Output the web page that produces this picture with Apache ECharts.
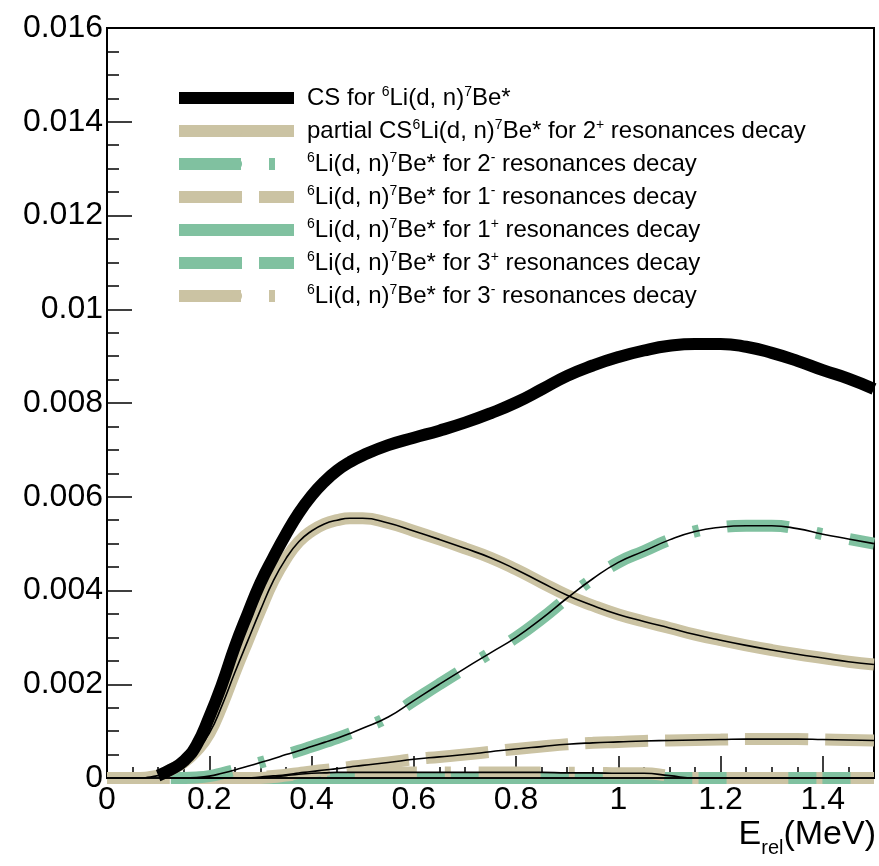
<!DOCTYPE html>
<html>
<head>
<meta charset="utf-8">
<script src="https://cdn.jsdelivr.net/npm/echarts@6/dist/echarts.min.js"></script>
<style>
html,body{margin:0;padding:0;background:#fff;}
#chart{width:879px;height:866px;}
</style>
</head>
<body>
<div id="chart"></div>
<script>
// ---- data (E_rel in MeV, cross sections) ----
const energy = [0, 0.05, 0.1, 0.125, 0.15, 0.175, 0.2, 0.225, 0.25, 0.275, 0.3, 0.325, 0.35, 0.375, 0.4, 0.425, 0.45, 0.475, 0.5, 0.55, 0.6, 0.65, 0.7, 0.75, 0.8, 0.85, 0.9, 0.95, 1.0, 1.05, 1.1, 1.15, 1.2, 1.25, 1.3, 1.35, 1.4, 1.45, 1.5];

const csTotal = [null, null, 0.00005, 0.00018, 0.00036, 0.0007, 0.0013, 0.002, 0.0028, 0.0035, 0.00416, 0.0047, 0.0052, 0.00565, 0.00602, 0.00632, 0.00656, 0.00674, 0.00688, 0.0071, 0.00726, 0.00741, 0.00758, 0.00778, 0.00801, 0.00829, 0.00858, 0.0088, 0.00898, 0.00912, 0.00922, 0.00926, 0.00926, 0.0092, 0.00907, 0.0089, 0.0087, 0.00852, 0.0083];

const partial2p = [0, 0, 0.00005, 0.00018, 0.00033, 0.00058, 0.00095, 0.00155, 0.00225, 0.00292, 0.00358, 0.0042, 0.00468, 0.00504, 0.00527, 0.00542, 0.0055, 0.00554, 0.00554, 0.00544, 0.00527, 0.00509, 0.0049, 0.0047, 0.00445, 0.00417, 0.0039, 0.00368, 0.00349, 0.00334, 0.0032, 0.00306, 0.00294, 0.00283, 0.00273, 0.00264, 0.00256, 0.00248, 0.00242];

const res2m = [null, null, null, 0, 0, 0.00001, 0.00004, 0.0001, 0.00017, 0.00025, 0.00033, 0.00041, 0.0005, 0.00058, 0.00067, 0.00076, 0.00085, 0.00095, 0.00106, 0.0013, 0.00165, 0.002, 0.00234, 0.00267, 0.003, 0.0034, 0.00384, 0.00425, 0.0046, 0.00484, 0.00508, 0.00526, 0.00535, 0.00538, 0.00538, 0.00532, 0.0052, 0.0051, 0.005];

const res1m = [0, 0, 0, 0, 0, 0, 0, 0, 0, 0, 0.00002, 0.000045, 0.00007, 0.000105, 0.00014, 0.00017, 0.0002, 0.000235, 0.00027, 0.00033, 0.0004, 0.00045, 0.0005, 0.00056, 0.00062, 0.00067, 0.00072, 0.00075, 0.00077, 0.00079, 0.0008, 0.00081, 0.00082, 0.00083, 0.00083, 0.00083, 0.00082, 0.00081, 0.0008];

const res1p = [null, null, null, 0, 0, 0, 0, 0, 0, 0, 0, 0, 0, 0, 0, 0, 0, 0, 0, 0, 0, 0, 0, 0, 0, 0, 0, 0, 0, 0, 0, 0, 0, 0, 0, 0, 0, 0, 0];

const res3p = [null, null, null, 0, 0, 0, 0, 0, 0, 0, 0, 0, 0, 0, 0, 0, 0, 0, 0, 0, 0, 0, 0, 0, 0, 0, 0, 0, 0, 0, 0, 0, 0, 0, 0, 0, 0, 0, 0];

const res3m = [0, 0, 0, 0, 0, 0, 0, 0, 0, 0, 0, 0.00002, 0.00005, 0.00008, 0.0001, 0.00011, 0.00012, 0.00012, 0.00012, 0.00012, 0.00012, 0.00012, 0.00012, 0.00012, 0.00012, 0.00012, 0.00011, 0.00011, 0.0001, 0.0001, 0.00005, 0, 0, 0, 0, 0, 0, 0, 0];

const xTickLabels = ['0', '0.2', '0.4', '0.6', '0.8', '1', '1.2', '1.4'];

const names = {
  cs: 'CS for 6Li(d, n)7Be*',
  p2p: 'partial CS 6Li(d, n)7Be* for 2+ resonances decay',
  r2m: '6Li(d, n)7Be* for 2- resonances decay',
  r1m: '6Li(d, n)7Be* for 1- resonances decay',
  r1p: '6Li(d, n)7Be* for 1+ resonances decay',
  r3p: '6Li(d, n)7Be* for 3+ resonances decay',
  r3m: '6Li(d, n)7Be* for 3- resonances decay'
};
const legendRich = {};
legendRich[names.cs] = 'CS for {s|6}Li(d, n){s|7}Be*';
legendRich[names.p2p] = 'partial CS{s|6}Li(d, n){s|7}Be* for 2{s|+} resonances decay';
legendRich[names.r2m] = '{s|6}Li(d, n){s|7}Be* for 2{s|-} resonances decay';
legendRich[names.r1m] = '{s|6}Li(d, n){s|7}Be* for 1{s|-} resonances decay';
legendRich[names.r1p] = '{s|6}Li(d, n){s|7}Be* for 1{s|+} resonances decay';
legendRich[names.r3p] = '{s|6}Li(d, n){s|7}Be* for 3{s|+} resonances decay';
legendRich[names.r3m] = '{s|6}Li(d, n){s|7}Be* for 3{s|-} resonances decay';

const TAN = '#cbc3a3';
const GREEN = '#80c1a0';
const FONT = "'Liberation Sans', Arial, sans-serif";

function pairs(ys) {
  return energy.map((e, i) => [e, ys[i] == null ? '-' : ys[i]]);
}

function thick(name, ys, color, width, type, z) {
  return {
    name: name, type: 'line', data: pairs(ys), symbol: 'none', smooth: 0.5,
    clip: false, z: z,
    lineStyle: { color: color, width: width, type: type, cap: 'butt' },
    itemStyle: { color: color },
    emphasis: { disabled: true }
  };
}
function thin(ys, z) {
  return {
    name: '_thin' + z, type: 'line', data: pairs(ys), symbol: 'none', smooth: 0.5,
    clip: false, z: z, silent: true,
    lineStyle: { color: '#000', width: 1.6 },
    emphasis: { disabled: true }
  };
}

const DASHDOT = [62, 28, 6, 28];
const DASH = [63, 17];

const series = [
  thick(names.r1p, res1p, GREEN, 12, 'solid', 2),
  thick(names.r3p, res3p, GREEN, 12, DASH, 3),
  thick(names.r3m, res3m, TAN, 12, DASHDOT, 4),
  thick(names.r1m, res1m, TAN, 12, DASH, 5),
  thick(names.r2m, res2m, GREEN, 12, DASHDOT, 6),
  thick(names.p2p, partial2p, TAN, 12, 'solid', 7),
  thick(names.cs, csTotal, '#000', 12, 'solid', 8),
  thin(res1p, 10), thin(res3p, 11), thin(res3m, 12), thin(res1m, 13), thin(res2m, 14), thin(partial2p, 15)
];

const chart = echarts.init(document.getElementById('chart'), null, { renderer: 'canvas' });
chart.setOption({
  animation: false,
  backgroundColor: '#fff',
  grid: { left: 107, right: 5, top: 28, bottom: 88, show: true, borderColor: '#000', borderWidth: 2 },
  legend: {
    orient: 'vertical', left: 168, top: 80,
    itemWidth: 115, itemHeight: 14, itemGap: 7,
    selectedMode: false,
    data: [names.cs, names.p2p, names.r2m, names.r1m, names.r1p, names.r3p, names.r3m],
    lineStyle: { width: 'inherit' },
    formatter: n => legendRich[n],
    textStyle: {
      fontFamily: FONT, fontSize: 24, color: '#000', lineHeight: 26, padding: [0, 0, 0, 8],
      rich: { s: { fontFamily: FONT, fontSize: 14, lineHeight: 14, verticalAlign: 'top', color: '#000' } }
    }
  },
  xAxis: {
    type: 'value', min: 0, max: 1.5, interval: 0.2,
    axisLine: { onZero: false, lineStyle: { color: '#000', width: 2 } },
    axisTick: { inside: true, length: 22, lineStyle: { color: '#000', width: 1.5 } },
    minorTick: { show: true, splitNumber: 4, length: 11, lineStyle: { color: '#000', width: 1.5 } },
    splitLine: { show: false },
    axisLabel: {
      showMaxLabel: false, margin: 6, fontFamily: FONT, fontSize: 32, color: '#000',
      formatter: v => { const i = Math.round(v / 0.2); return (Math.abs(v - i * 0.2) < 1e-9 && xTickLabels[i] != null) ? xTickLabels[i] : ''; }
    },
    name: '{e|E}{r|rel}{e|(MeV)}',
    nameLocation: 'end', nameGap: 0,
    nameTextStyle: {
      align: 'right', verticalAlign: 'top', padding: [40, -2, 0, 0],
      rich: {
        e: { fontFamily: FONT, fontSize: 34, color: '#000', lineHeight: 40, verticalAlign: 'top' },
        r: { fontFamily: FONT, fontSize: 20, color: '#000', lineHeight: 20, verticalAlign: 'bottom' }
      }
    }
  },
  yAxis: {
    type: 'value', min: 0, max: 0.016, interval: 0.002,
    axisLine: { onZero: false, lineStyle: { color: '#000', width: 2 } },
    axisTick: { inside: true, length: 25, lineStyle: { color: '#000', width: 1.5 } },
    minorTick: { show: true, splitNumber: 4, length: 12, lineStyle: { color: '#000', width: 1.5 } },
    splitLine: { show: false },
    axisLabel: { margin: 4, fontFamily: FONT, fontSize: 32, color: '#000' }
  },
  series: series
});
</script>
</body>
</html>
